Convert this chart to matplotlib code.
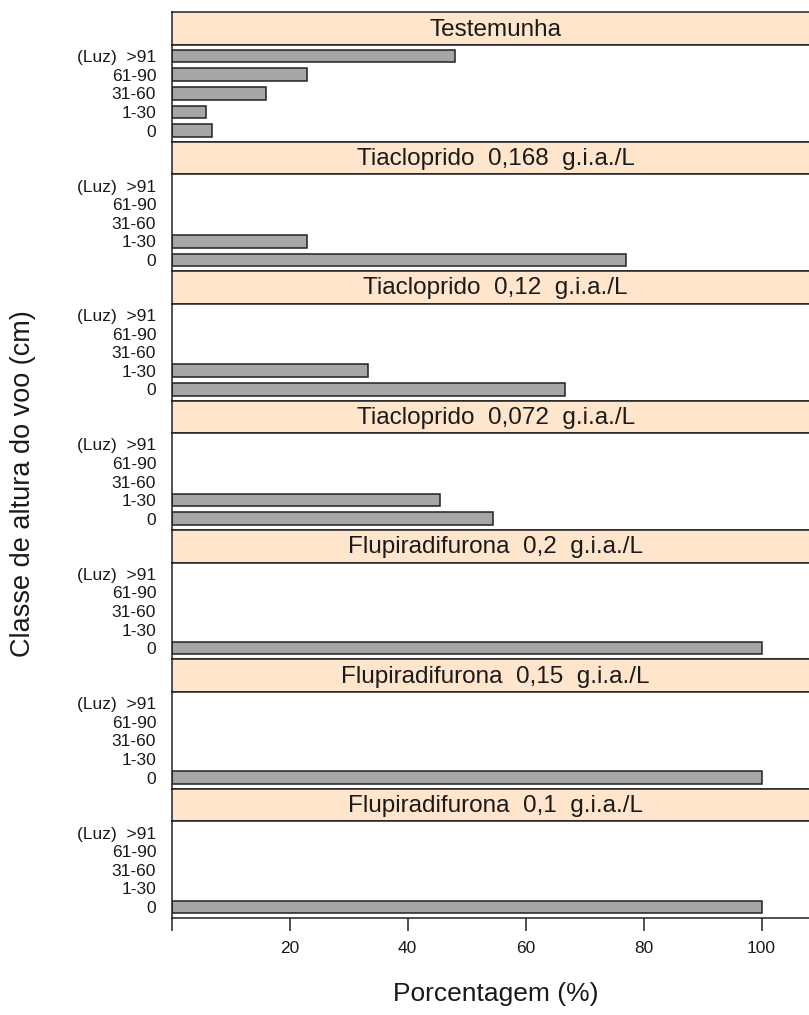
import matplotlib
matplotlib.use("Agg")
import matplotlib.pyplot as plt

plt.rcParams['font.family'] = ['Liberation Sans', 'DejaVu Sans']

categories = ["0", "1-30", "31-60", "61-90", "(Luz)  >91"]
panels = [
    "Testemunha",
    "Tiacloprido  0,168  g.i.a./L",
    "Tiacloprido  0,12  g.i.a./L",
    "Tiacloprido  0,072  g.i.a./L",
    "Flupiradifurona  0,2  g.i.a./L",
    "Flupiradifurona  0,15  g.i.a./L",
    "Flupiradifurona  0,1  g.i.a./L",
]
testemunha = [6.8, 5.8, 16.0, 23.0, 48.0]
tiac_0168 = [77.1, 22.9, 0, 0, 0]
tiac_012 = [66.7, 33.3, 0, 0, 0]
tiac_0072 = [54.5, 45.5, 0, 0, 0]
flup_02 = [100, 0, 0, 0, 0]
flup_015 = [100, 0, 0, 0, 0]
flup_01 = [100, 0, 0, 0, 0]
values = [testemunha, tiac_0168, tiac_012, tiac_0072, flup_02, flup_015, flup_01]
xticks = [0, 20, 40, 60, 80, 100]
xticklabels = ["", "20", "40", "60", "80", "100"]

W, H = 809, 1015
fig = plt.figure(figsize=(W / 100, H / 100), dpi=100)

left_px, right_px = 171.5, 820.0
top0, period, strip_h = 12.3, 129.4, 32.7
xmax = (right_px - left_px) / 5.9
txt = "#1a1a1a"

for i, (title, vals) in enumerate(zip(panels, values)):
    st = top0 + i * period
    sb = st + strip_h
    pb = st + period
    # strip
    sax = fig.add_axes([left_px / W, 1 - sb / H, (right_px - left_px) / W, strip_h / H])
    sax.set_facecolor("#FFE5CC")
    sax.set_xticks([]); sax.set_yticks([])
    for s in sax.spines.values():
        s.set_linewidth(1.1); s.set_color("#222222")
    sax.text(0.5, 0.47, title, transform=sax.transAxes, ha="center", va="center",
             fontsize=17.5, color=txt)
    # panel
    ax = fig.add_axes([left_px / W, 1 - pb / H, (right_px - left_px) / W, (pb - sb) / H])
    ypos = list(range(1, len(categories) + 1))
    edges = ["#222222" if v > 0 else "none" for v in vals]
    ax.barh(ypos, vals, height=0.68, color="#A6A6A6", edgecolor=edges, linewidth=1.1)
    ax.set_xlim(0, xmax)
    ax.set_ylim(0.4, len(categories) + 0.6)
    ax.set_yticks(ypos)
    ax.set_yticklabels(categories, fontsize=12.5, color=txt)
    ax.tick_params(axis="y", length=0, pad=11)
    for s in ax.spines.values():
        s.set_linewidth(1.1); s.set_color("#222222")
    if i == len(panels) - 1:
        ax.set_xticks(xticks)
        ax.set_xticklabels(xticklabels, fontsize=12.5, color=txt)
        ax.tick_params(axis="x", direction="out", length=9.5, width=1.1, pad=7, color="#222222")
    else:
        ax.set_xticks([])

fig.text(23 / W, 1 - 484 / H, "Classe de altura do voo (cm)", rotation=90,
         ha="center", va="center", fontsize=19.5, color=txt)
fig.text(496 / W, 1 - 994 / H, "Porcentagem (%)", ha="center", va="center",
         fontsize=19, color=txt)

fig.savefig("out.png", dpi=100, facecolor="white")
